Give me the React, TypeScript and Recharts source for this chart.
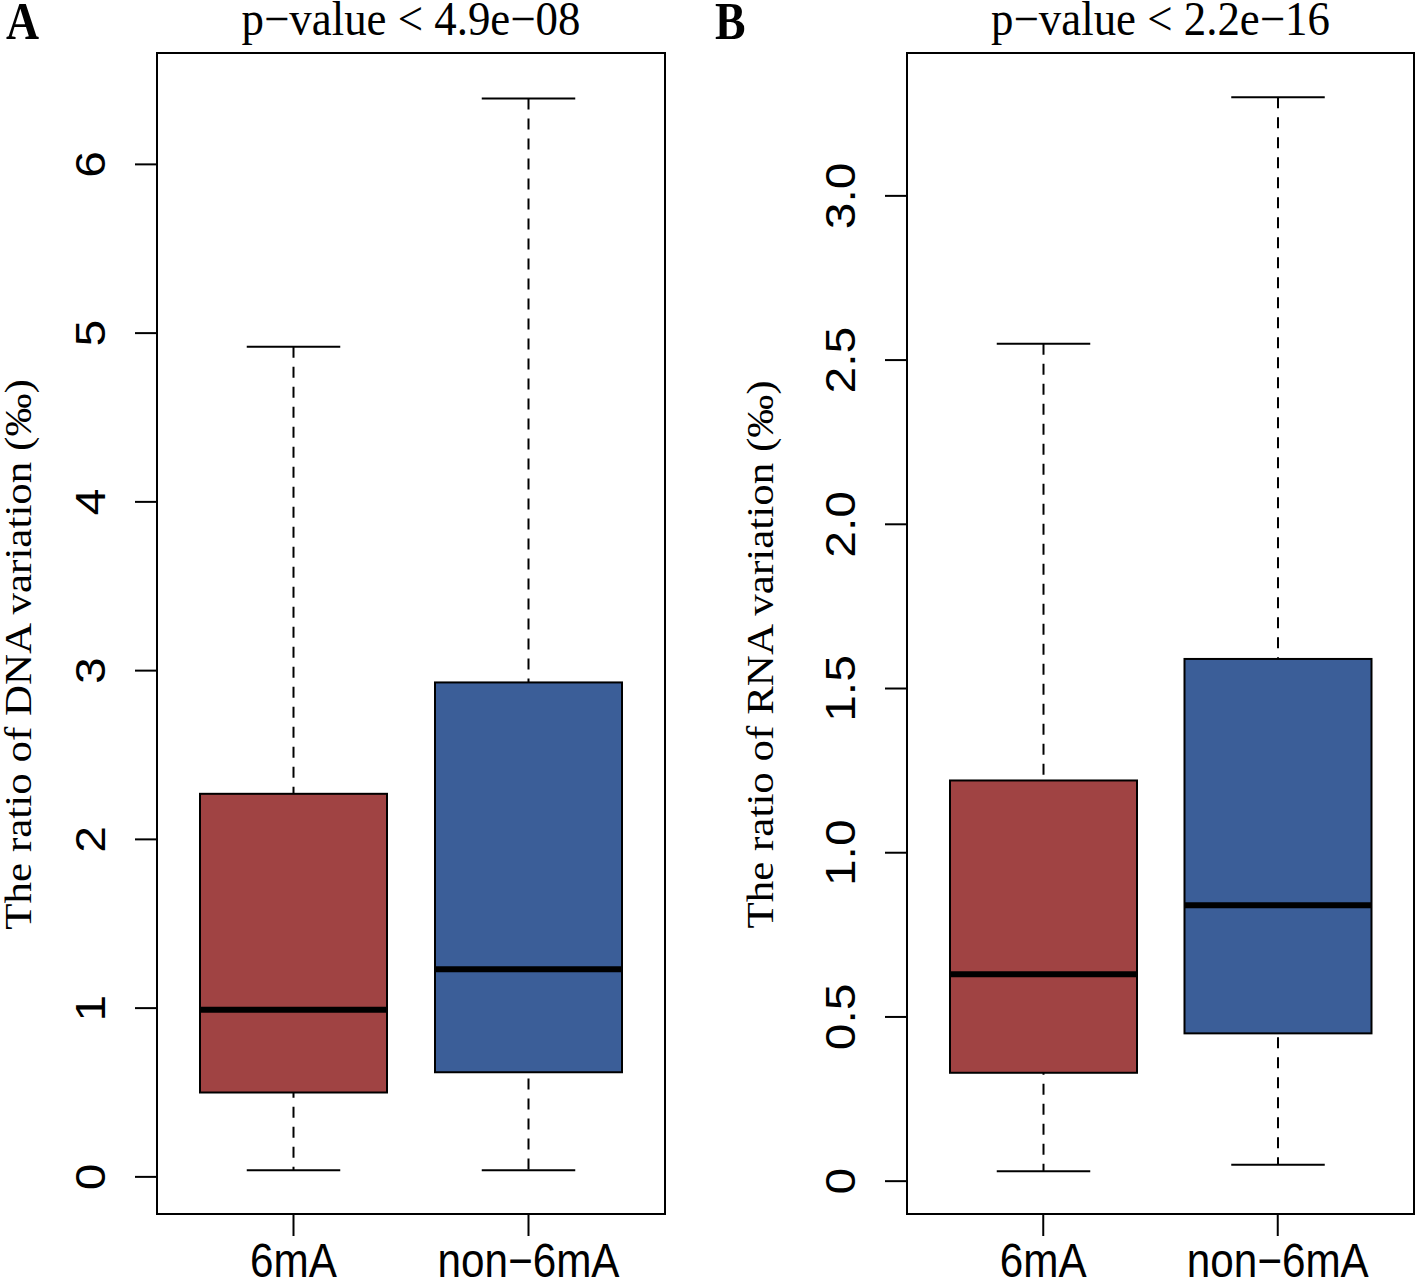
import React from 'react';
import { ComposedChart, Bar, XAxis, YAxis } from 'recharts';

// groups on the x axis
const categories = ['6mA', 'non−6mA'];
const boxColors = ['#A04343', '#3B5E98'];

// panel A: DNA variation (‰)
const dnaMin = [0.04, 0.04];
const dnaQ1 = [0.5, 0.62];
const dnaMedian = [0.99, 1.23];
const dnaQ3 = [2.27, 2.93];
const dnaMax = [4.92, 6.39];
const dnaTicks = [0, 1, 2, 3, 4, 5, 6];

// panel B: RNA variation (‰)
const rnaMin = [0.03, 0.05];
const rnaQ1 = [0.33, 0.45];
const rnaMedian = [0.63, 0.84];
const rnaQ3 = [1.22, 1.59];
const rnaMax = [2.55, 3.3];
const rnaTicks = [0, 0.5, 1, 1.5, 2, 2.5, 3];

const buildRows = (mins: number[], q1s: number[], meds: number[], q3s: number[], maxs: number[]) =>
  categories.map((name, i) => ({
    name,
    whisker: [mins[i], maxs[i]],
    box: [q1s[i], q3s[i]],
    median: [meds[i], meds[i]],
    color: boxColors[i],
  }));

const SANS = '"Liberation Sans", Arial, sans-serif';
const SERIF = '"Liberation Serif", "Times New Roman", serif';
const BOX_W = 187;
// the figure is slightly narrowed horizontally, text included
const SQ = 0.88;

const WhiskerShape = (props: any) => {
  const { x, y, width, height } = props;
  const top = Math.min(y, y + height);
  const bottom = Math.max(y, y + height);
  const cx = x + width / 2;
  const half = width / 4;
  return (
    <g stroke="#000" strokeWidth={2}>
      <line x1={cx} x2={cx} y1={top} y2={bottom} strokeDasharray="11 9" />
      <line x1={cx - half} x2={cx + half} y1={top} y2={top} />
      <line x1={cx - half} x2={cx + half} y1={bottom} y2={bottom} />
    </g>
  );
};

const BoxShape = (props: any) => {
  const { x, y, width, height, payload } = props;
  const top = Math.min(y, y + height);
  return (
    <rect x={x} y={top} width={width} height={Math.abs(height)} fill={payload.color} stroke="#000" strokeWidth={2} />
  );
};

const MedianShape = (props: any) => {
  const { x, y, width } = props;
  return <line x1={x} x2={x + width} y1={y} y2={y} stroke="#000" strokeWidth={6} />;
};

const YTick = (props: any) => {
  const { x, y, payload, fmt } = props;
  return (
    <text
      transform={`translate(${x} ${y}) scale(${SQ} 1) rotate(-90)`}
      textAnchor="middle"
      fontSize={48}
      fontFamily={SANS}
      fill="#000"
    >
      {fmt(payload.value)}
    </text>
  );
};

const XTick = (props: any) => {
  const { x, y, payload } = props;
  return (
    <text
      transform={`translate(${x} ${y}) scale(${SQ} 1)`}
      textAnchor="middle"
      dy="0.71em"
      fontSize={48}
      fontFamily={SANS}
      fill="#000"
    >
      {payload.value}
    </text>
  );
};

interface PanelProps {
  left: number;
  width: number;
  plotLeft: number;
  plotRight: number;
  rows: any[];
  domain: [number, number];
  ticks: number[];
  fmt: (v: number) => string;
  letter: string;
  title: string;
  yLabel: string;
  labelGap: number;
}

const PLOT_TOP = 53;
const PLOT_BOTTOM = 1214;
const H = 1279;

const Panel: React.FC<PanelProps> = (p) => {
  const plotW = p.width - p.plotLeft - p.plotRight;
  const plotH = PLOT_BOTTOM - PLOT_TOP;
  const axisW = 100;
  const xPad = { left: 19, right: 19 };
  return (
    <div style={{ position: 'absolute', left: p.left, top: 0, width: p.width, height: H }}>
      <ComposedChart
        width={p.width}
        height={H}
        data={p.rows}
        margin={{ top: PLOT_TOP, right: p.plotRight, bottom: 0, left: p.plotLeft - axisW }}
      >
        <XAxis
          xAxisId="a"
          dataKey="name"
          height={H - PLOT_BOTTOM}
          padding={xPad}
          tickSize={22}
          tickMargin={7}
          axisLine={false}
          tickLine={{ stroke: '#000', strokeWidth: 2 }}
          tick={<XTick />}
          interval={0}
        />
        <XAxis xAxisId="b" dataKey="name" hide height={0} padding={xPad} />
        <XAxis xAxisId="c" dataKey="name" hide height={0} padding={xPad} />
        <YAxis
          type="number"
          domain={p.domain}
          ticks={p.ticks}
          allowDataOverflow
          width={axisW}
          tickSize={22}
          tickMargin={30}
          axisLine={false}
          tickLine={{ stroke: '#000', strokeWidth: 2 }}
          tick={<YTick fmt={p.fmt} />}
          interval={0}
          label={(lp: any) => {
            const vb = lp.viewBox;
            const lx = vb.x + vb.width - p.labelGap;
            const ly = vb.y + vb.height / 2 + 21;
            return (
              <text
                transform={`translate(${lx} ${ly}) scale(${SQ} 1) rotate(-90)`}
                textAnchor="middle"
                fontSize={43}
                fontFamily={SERIF}
                fill="#000"
              >
                {p.yLabel}
              </text>
            );
          }}
        />
        <Bar xAxisId="a" dataKey="whisker" barSize={BOX_W} shape={WhiskerShape} isAnimationActive={false} />
        <Bar xAxisId="b" dataKey="box" barSize={BOX_W} shape={BoxShape} isAnimationActive={false} />
        <Bar xAxisId="c" dataKey="median" barSize={BOX_W} shape={MedianShape} isAnimationActive={false} />
      </ComposedChart>
      <div
        style={{
          position: 'absolute',
          left: p.plotLeft - 1,
          top: PLOT_TOP - 1,
          width: plotW + 2,
          height: plotH + 2,
          border: '2px solid #000',
          boxSizing: 'border-box',
          pointerEvents: 'none',
        }}
      />
      <div
        style={{
          position: 'absolute',
          left: 6,
          top: -8,
          fontFamily: SERIF,
          fontWeight: 'bold',
          fontSize: 52,
          lineHeight: '60px',
          transform: `scaleX(${SQ})`,
          transformOrigin: 'left center',
        }}
      >
        {p.letter}
      </div>
      <div
        style={{
          position: 'absolute',
          left: p.plotLeft,
          width: plotW,
          top: -9,
          textAlign: 'center',
          fontFamily: SERIF,
          fontSize: 48,
          lineHeight: '56px',
          transform: 'scaleX(0.935)',
          transformOrigin: 'center center',
          whiteSpace: 'nowrap',
        }}
      >
        {p.title}
      </div>
    </div>
  );
};

const App: React.FC = () => (
  <div style={{ position: 'absolute', left: 0, top: 0, width: 1418, height: H, background: '#fff' }}>
    <Panel
      left={0}
      width={709}
      plotLeft={157}
      plotRight={44}
      rows={buildRows(dnaMin, dnaQ1, dnaMedian, dnaQ3, dnaMax)}
      domain={[-0.22, 6.66]}
      ticks={dnaTicks}
      fmt={(v) => String(v)}
      letter="A"
      title="p−value < 4.9e−08"
      yLabel="The ratio of DNA variation (‰)"
      labelGap={126}
    />
    <Panel
      left={709}
      width={709}
      plotLeft={198}
      plotRight={4}
      rows={buildRows(rnaMin, rnaQ1, rnaMedian, rnaQ3, rnaMax)}
      domain={[-0.1, 3.435]}
      ticks={rnaTicks}
      fmt={(v) => (v === 0 ? '0' : v.toFixed(1))}
      letter="B"
      title="p−value < 2.2e−16"
      yLabel="The ratio of RNA variation (‰)"
      labelGap={134}
    />
  </div>
);

export default App;
